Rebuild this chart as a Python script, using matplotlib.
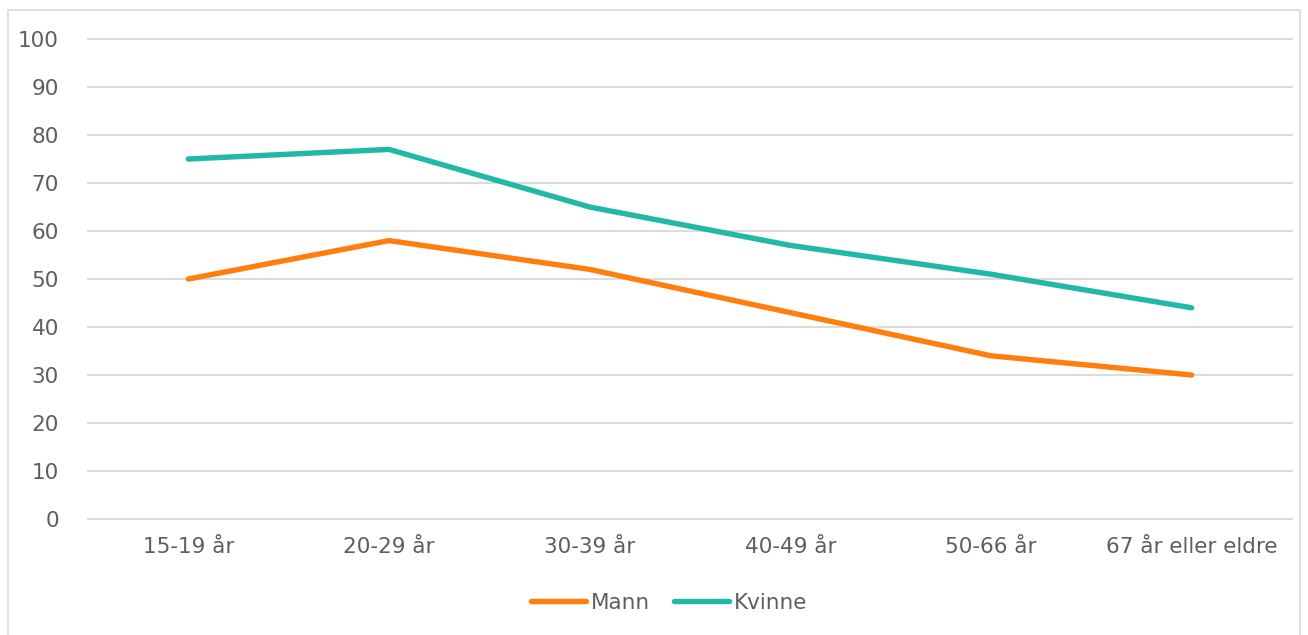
import matplotlib
matplotlib.use("Agg")
import matplotlib.pyplot as plt
from matplotlib.patches import Rectangle

categories = ["15-19 år", "20-29 år", "30-39 år", "40-49 år", "50-66 år", "67 år eller eldre"]
mann = [50, 58, 52, 43, 34, 30]
kvinne = [75, 77, 65, 57, 51, 44]
yticks = list(range(0, 101, 10))

plt.rcParams['font.family'] = ['DejaVu Sans']

fig = plt.figure(figsize=(13.08, 6.35), dpi=100)
ax = fig.add_axes([88/1308, 1-519/635, (1292-88)/1308, (519-39)/635])

x = list(range(len(categories)))
ax.plot(x, mann, color="#FF7F0E", lw=3.9, solid_capstyle="round", label="Mann", zorder=3)
ax.plot(x, kvinne, color="#22B8A8", lw=3.9, solid_capstyle="round", label="Kvinne", zorder=3)

ax.set_xlim(-0.5, len(categories) - 0.5)
ax.set_ylim(0, 100)
ax.set_yticks(yticks)
ax.set_xticks(x)
ax.set_xticklabels(categories)
ax.grid(axis="y", color="#D9D9D9", lw=1.3)
for gl in ax.get_ygridlines():
    gl.set_clip_on(False)
ax.set_axisbelow(True)
for s in ax.spines.values():
    s.set_visible(False)
ax.tick_params(axis="both", length=0, labelsize=15.5, labelcolor="#5E5E5E")
ax.tick_params(axis="y", pad=21)
ax.tick_params(axis="x", pad=13)

leg = fig.legend(loc="center", bbox_to_anchor=(669/1308, 1-603/635), ncol=2, frameon=False,
                 fontsize=15.5, handlelength=2.56, handletextpad=0.23, columnspacing=1.1)
for t in leg.get_texts():
    t.set_color("#5E5E5E")

fig.patches.append(Rectangle((8/1308, -0.01), (1300-8)/1308, 1-10/635+0.01,
                             transform=fig.transFigure, fill=False, ec="#D9D9D9", lw=1.2))

fig.savefig("out.png", dpi=100)
